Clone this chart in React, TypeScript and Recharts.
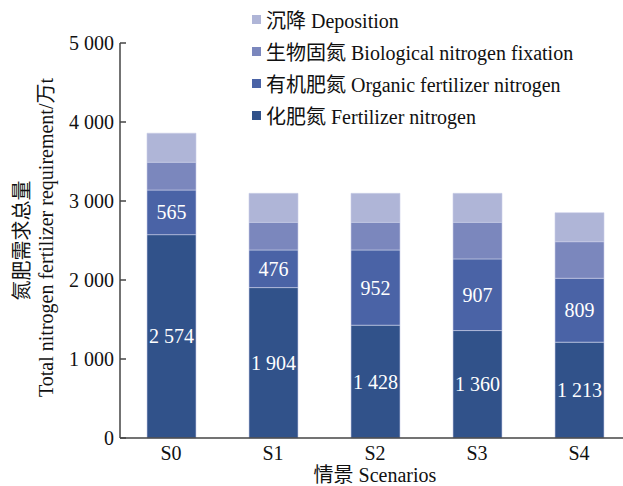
import React from "react";
import { BarChart, Bar, XAxis, YAxis, Legend, LabelList } from "recharts";

const scenarios = ["S0", "S1", "S2", "S3", "S4"];
const fertilizerN = [2574, 1904, 1428, 1360, 1213];
const organicN = [565, 476, 952, 907, 809];
const biologicalN = [352, 350, 350, 463, 463];
const depositionN = [367, 367, 367, 367, 367];
const yTicks = [0, 1000, 2000, 3000, 4000, 5000];

const FONT = "'Liberation Serif', 'Times New Roman', 'Noto Sans CJK SC', serif";
const txt = { fontFamily: FONT, fontSize: 20 };

const series = [
  { key: "fert", name: "化肥氮 Fertilizer nitrogen", color: "#31528a", label: true },
  { key: "org", name: "有机肥氮 Organic fertilizer nitrogen", color: "#4a63a6", label: true },
  { key: "bio", name: "生物固氮 Biological nitrogen fixation", color: "#7b87bd", label: false },
  { key: "dep", name: "沉降 Deposition", color: "#afb5d7", label: false },
];
const legendOrder = ["dep", "bio", "org", "fert"];

const data = scenarios.map((s, i) => ({
  name: s,
  fert: fertilizerN[i],
  org: organicN[i],
  bio: biologicalN[i],
  dep: depositionN[i],
}));

// 5 000 style, space as thousands separator
const fmt = (v: any) => String(v).replace(/\B(?=(\d{3})+(?!\d))/g, " ");

function LegendBox({ payload }: any) {
  const items = [...(payload || [])].sort(
    (a: any, b: any) => legendOrder.indexOf(a.dataKey) - legendOrder.indexOf(b.dataKey)
  );
  return (
    <div style={{ fontFamily: FONT, fontSize: 20, color: "#111" }}>
      {items.map((p: any) => (
        <div key={p.value} style={{ display: "flex", alignItems: "center", height: 32 }}>
          <span style={{ width: 9, height: 9, background: p.color, marginRight: 5, display: "inline-block" }} />
          <span>{p.value}</span>
        </div>
      ))}
    </div>
  );
}

function YTick({ x, y, payload }: any) {
  return (
    <text x={x} y={y} textAnchor="end" dominantBaseline="central" fill="#111" style={txt}>
      {fmt(payload.value)}
    </text>
  );
}

function XTick({ x, y, payload }: any) {
  return (
    <text x={x} y={y} dy={15} textAnchor="middle" dominantBaseline="central" fill="#111" style={txt}>
      {payload.value}
    </text>
  );
}

function BarLabel({ x, y, width, height, value }: any) {
  return (
    <text x={x + width / 2} y={y + height / 2} textAnchor="middle" dominantBaseline="central" fill="#fff" style={txt}>
      {fmt(value)}
    </text>
  );
}

function YLabel({ viewBox }: any) {
  const cy = viewBox.y + viewBox.height / 2;
  return (
    <g fill="#111">
      <text x={22} y={cy} transform={`rotate(-90, 22, ${cy})`} textAnchor="middle" dominantBaseline="central" style={txt}>
        氮肥需求总量
      </text>
      <text x={46} y={cy - 3} transform={`rotate(-90, 46, ${cy - 3})`} textAnchor="middle" dominantBaseline="central" style={txt}>
        Total nitrogen fertilizer requirement/万t
      </text>
    </g>
  );
}

function XLabel({ viewBox }: any) {
  return (
    <text x={viewBox.x + viewBox.width / 2} y={475} textAnchor="middle" dominantBaseline="central" fill="#111" style={txt}>
      情景 Scenarios
    </text>
  );
}

export default function App() {
  return (
    <div style={{ position: "absolute", left: 0, top: 0, width: 623, height: 486, overflow: "hidden", background: "#fff" }}>
      <BarChart
        width={630}
        height={486}
        data={data}
        margin={{ top: 43, right: 0, bottom: 0, left: 0 }}
        barSize={49}
      >
        <XAxis
          dataKey="name"
          height={48}
          tickLine={false}
          tickSize={0}
          tickMargin={0}
          axisLine={{ stroke: "#444", strokeWidth: 1.5 }}
          tick={XTick}
          label={{ content: XLabel }}
        />
        <YAxis
          width={120}
          domain={[0, 5000]}
          ticks={yTicks}
          interval={0}
          tickSize={-6}
          tickMargin={12}
          axisLine={{ stroke: "#444", strokeWidth: 1.5 }}
          tickLine={{ stroke: "#444", strokeWidth: 1.5 }}
          tick={YTick}
          label={{ content: YLabel }}
        />
        <Legend
          layout="vertical"
          align="center"
          verticalAlign="middle"
          content={LegendBox}
          wrapperStyle={{ left: 252, top: 3, width: 370 }}
        />
        {series.map((s) => (
          <Bar
            key={s.key}
            dataKey={s.key}
            name={s.name}
            stackId="n"
            fill={s.color}
            stroke="#c9cee8"
            strokeWidth={0.6}
            isAnimationActive={false}
          >
            {s.label && <LabelList dataKey={s.key} content={BarLabel} />}
          </Bar>
        ))}
      </BarChart>
    </div>
  );
}
